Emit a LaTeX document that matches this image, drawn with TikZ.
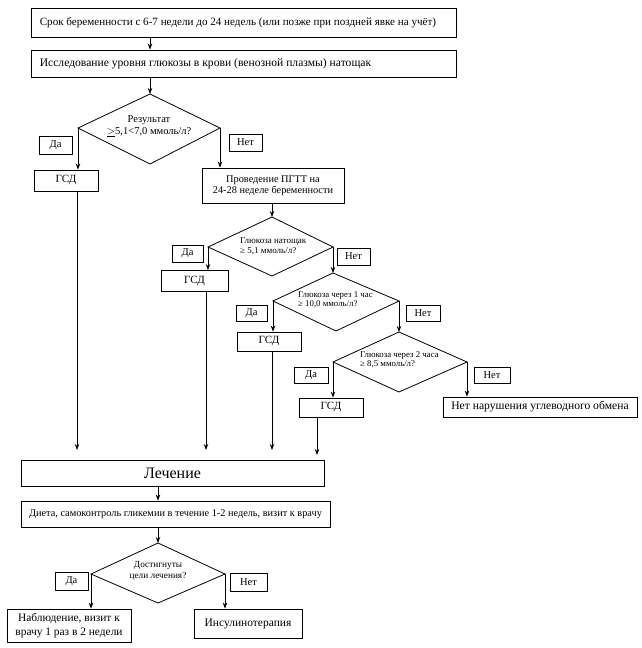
\documentclass[tikz,border=0pt]{standalone}
\usepackage{fontspec}
\setmainfont{Liberation Serif}
\usetikzlibrary{arrows.meta,calc}
\newcommand{\fsz}[1]{\fontsize{#1}{#1}\selectfont}
\tikzset{
  box/.style={draw, line width=0.8pt, inner sep=0pt, align=center},
  arr/.style={-{Stealth[length=6pt,width=4.5pt]}, line width=0.8pt},
  ln/.style={line width=0.8pt},
  dia/.style={draw, line width=0.8pt, line join=miter},
  dtext/.style={inner sep=0pt, align=left},
}
\begin{document}
\begin{tikzpicture}[x=1pt,y=-1pt]
\useasboundingbox (0,0) rectangle (642,648);
% top boxes
\node[box, minimum width=425pt, minimum height=29pt] (b1) at (243.5,22.5) {};
\node[dtext, anchor=west, font=\fsz{11.1}] (b1t) at ([xshift=9pt]b1.west) {Срок беременности с 6-7 недели до 24 недель (или позже при поздней явке на учёт)};
\node[box, minimum width=425pt, minimum height=27pt] (b2) at (243.5,63.5) {};
\node[dtext, anchor=west, font=\fsz{11.6}] (b2t) at ([xshift=9pt]b2.west) {Исследование уровня глюкозы в крови (венозной плазмы) натощак};
% diamond 1
\coordinate (d1t) at (150,94); \coordinate (d1l) at (78,128);
\coordinate (d1r) at (220,128); \coordinate (d1b) at (150,164);
\draw[dia] (d1t)--(d1r)--(d1b)--(d1l)--cycle;
\node[dtext, align=center, font=\fsz{10.5}] (d1x) at (149,126) {Результат\\[1.5pt]$\underline{>}$5,1<7,0 ммоль/л?};
\draw[arr] (b1.south -| d1t) -- (b2.north -| d1t);
\draw[arr] (b2.south -| d1t) -- (d1t);
\node[box, minimum width=33pt, minimum height=18pt, font=\fsz{10.5}] (y1) at (55.5,145) {Да};
\node[box, minimum width=33pt, minimum height=17pt, font=\fsz{10.5}] (n1) at (245.5,142.5) {Нет};
\node[box, minimum width=64pt, minimum height=21pt, font=\fsz{11}] (g1) at (66,180.5) {ГСД};
\node[box, minimum width=142pt, minimum height=35pt, font=\fsz{10.3}] (p1) at (273,185.5) {Проведение ПГТТ на\\[1pt]24-28 неделе беременности};
\draw[arr] (d1l) -- (d1l |- g1.north);
\draw[arr] (d1r) -- (d1r |- p1.north);
% diamond 2
\coordinate (d2t) at (272,217); \coordinate (d2l) at (208,247);
\coordinate (d2r) at (333,247); \coordinate (d2b) at (272,276);
\draw[dia] (d2t)--(d2r)--(d2b)--(d2l)--cycle;
\draw[arr] (p1.south -| d2t) -- (d2t);
\node[dtext, anchor=west, font=\fsz{9}] (d2x) at (240,246.5) {Глюкоза натощак\\[1pt]≥ 5,1 ммоль/л?};
\node[box, minimum width=31pt, minimum height=17pt, font=\fsz{10.5}] (y2) at (187.5,253.5) {Да};
\node[box, minimum width=33pt, minimum height=17pt, font=\fsz{10.5}] (n2) at (353.5,256.5) {Нет};
\node[box, minimum width=67pt, minimum height=21pt, font=\fsz{11}] (g2) at (194.5,281) {ГСД};
\draw[arr] (d2l) -- (d2l |- g2.north);
% diamond 3
\coordinate (d3t) at (333,273); \coordinate (d3l) at (273,301);
\coordinate (d3r) at (399,301); \coordinate (d3b) at (336,331);
\draw[dia] (d3t)--(d3r)--(d3b)--(d3l)--cycle;
\draw[arr] (d2r) -- (d3t);
\node[dtext, anchor=west, font=\fsz{8.8}] (d3x) at (298,299.5) {Глюкоза через 1 час\\[0.3pt]≥ 10,0 ммоль/л?};
\node[box, minimum width=31pt, minimum height=16pt, font=\fsz{10.5}] (y3) at (251.5,313.5) {Да};
\node[box, minimum width=34pt, minimum height=16pt, font=\fsz{10.5}] (n3) at (423,313) {Нет};
\node[box, minimum width=64pt, minimum height=19pt, font=\fsz{11}] (g3) at (269,341.5) {ГСД};
\draw[arr] (d3l) -- (d3l |- g3.north);
% diamond 4
\coordinate (d4t) at (399,332); \coordinate (d4l) at (333,362);
\coordinate (d4r) at (467,362); \coordinate (d4b) at (399,392);
\draw[dia] (d4t)--(d4r)--(d4b)--(d4l)--cycle;
\draw[arr] (d3r) -- (d4t);
\node[dtext, anchor=west, font=\fsz{8.8}] (d4x) at (360,359.5) {Глюкоза через 2 часа\\[0.3pt]≥ 8,5 ммоль/л?};
\node[box, minimum width=34pt, minimum height=16pt, font=\fsz{10.5}] (y4) at (311,375) {Да};
\node[box, minimum width=36pt, minimum height=16pt, font=\fsz{10.5}] (n4) at (492,375) {Нет};
\node[box, minimum width=64pt, minimum height=19pt, font=\fsz{11}] (g4) at (331,407.5) {ГСД};
\node[box, minimum width=194pt, minimum height=20pt, font=\fsz{11.6}] (nn) at (540,407) {Нет нарушения углеводного обмена};
\draw[arr] (d4l) -- (d4l |- g4.north);
\draw[arr] (d4r) -- (d4r |- nn.north);
% treatment
\node[box, minimum width=303pt, minimum height=26pt, font=\fsz{16}] (L) at (172.5,473) {Лечение};
\node[box, minimum width=309pt, minimum height=26pt, font=\fsz{10.3}] (D) at (175.5,514) {Диета, самоконтроль гликемии в течение 1-2 недель, визит к врачу};
\coordinate (e1) at (77,450); \coordinate (e2) at (206,450);
\coordinate (e3) at (272,450); \coordinate (e4) at (317,455);
\draw[arr] (g1.south -| e1) -- (e1);
\draw[arr] (g2.south -| e2) -- (e2);
\draw[arr] (g3.south -| e3) -- (e3);
\draw[arr] (g4.south -| e4) -- (e4);
% diamond 5
\coordinate (d5t) at (158,543); \coordinate (d5l) at (91,574);
\coordinate (d5r) at (225,574); \coordinate (d5b) at (158,603);
\draw[dia] (d5t)--(d5r)--(d5b)--(d5l)--cycle;
\draw[arr] (L.south -| d5t) -- (D.north -| d5t);
\draw[arr] (D.south -| d5t) -- (d5t);
\node[dtext, align=center, font=\fsz{9.3}] (d5x) at (158,570.5) {Достигнуты\\[2pt]цели лечения?};
\node[box, minimum width=33pt, minimum height=18pt, font=\fsz{10.5}] (y5) at (71.5,581) {Да};
\node[box, minimum width=37pt, minimum height=18pt, font=\fsz{10.5}] (n5) at (248.5,582) {Нет};
\node[box, minimum width=124pt, minimum height=33pt, font=\fsz{11.4}] (ob) at (69,625.5) {Наблюдение, визит к\\[2pt]врачу 1 раз в 2 недели};
\node[box, minimum width=108pt, minimum height=29pt, font=\fsz{11.5}] (ins) at (248,623.5) {Инсулинотерапия};
\draw[arr] (d5l) -- (d5l |- ob.north);
\draw[arr] (d5r) -- (d5r |- ins.north);
\end{tikzpicture}
\end{document}
